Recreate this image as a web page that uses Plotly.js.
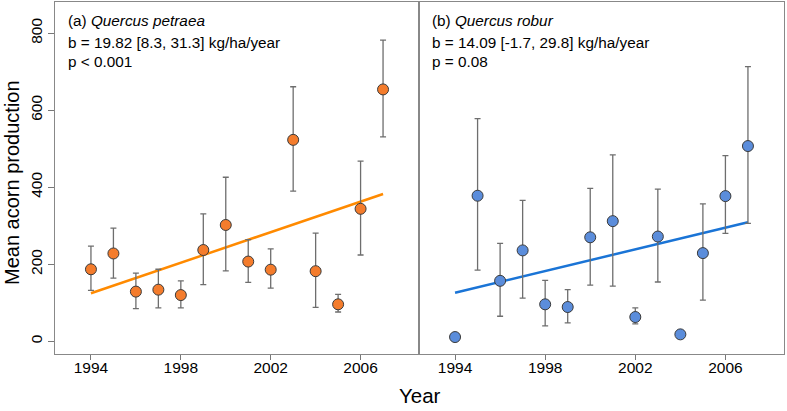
<!DOCTYPE html>
<html>
<head>
<meta charset="utf-8">
<script src="https://cdn.plot.ly/plotly-3.0.1.min.js"></script>
<style>html,body{margin:0;padding:0;background:#fff;}#chart{width:787px;height:411px;}</style>
</head>
<body>
<div id="chart"></div>
<script>
const years = [1994,1995,1996,1997,1998,1999,2000,2001,2002,2003,2004,2005,2006,2007];

// (a) Quercus petraea
const petraeaMean  = [187,228,129,134,120,237,302,207,186,523,182,96,344,654];
const petraeaUpper = [247,294,177,187,157,331,426,264,240,661,281,122,468,782];
const petraeaLower = [132,164,85,87,87,147,183,153,138,390,88,76,224,531];
const petraeaTrendX = [1994,2007];
const petraeaTrendY = [124.7,382.4];

// (b) Quercus robur
const roburMean  = [11,378,157,236,96,89,270,312,63,272,18,229,377,507];
const roburUpper = [11,578,254,366,158,134,397,484,87,395,18,357,482,713];
const roburLower = [11,185,65,112,40,48,146,143,45,154,18,107,280,306];
const roburTrendX = [1994,2007];
const roburTrendY = [126,309.2];

const yTicks = [0,200,400,600,800];
const xTicks = [1994,1998,2002,2006];

const textA = ["(a) <i>Quercus petraea</i>", "b = 19.82 [8.3, 31.3] kg/ha/year", "p < 0.001"];
const textB = ["(b) <i>Quercus robur</i>", "b = 14.09 [-1.7, 29.8] kg/ha/year", "p = 0.08"];

const plus = (u,m) => u.map((v,i)=>v-m[i]);
const minus = (l,m) => m.map((v,i)=>v-l[i]);

const errStyle = {type:'data', symmetric:false, color:'#6e6e6e', thickness:1.3, width:3};

const traces = [
  {x:petraeaTrendX, y:petraeaTrendY, mode:'lines', line:{color:'#ff8a00', width:2.5}, xaxis:'x', yaxis:'y', hoverinfo:'skip'},
  {x:years, y:petraeaMean, mode:'markers', xaxis:'x', yaxis:'y',
   error_y:Object.assign({array:plus(petraeaUpper,petraeaMean), arrayminus:minus(petraeaLower,petraeaMean)}, errStyle),
   marker:{size:11, color:'#f47c2c', line:{color:'#3a3a3a', width:1}}},
  {x:roburTrendX, y:roburTrendY, mode:'lines', line:{color:'#1a74d6', width:2.5}, xaxis:'x2', yaxis:'y2', hoverinfo:'skip'},
  {x:years, y:roburMean, mode:'markers', xaxis:'x2', yaxis:'y2',
   error_y:Object.assign({array:plus(roburUpper,roburMean), arrayminus:minus(roburLower,roburMean)}, errStyle),
   marker:{size:11, color:'#5b8ddb', line:{color:'#3a3a3a', width:1}}}
];

const font = {family:'"Liberation Sans", Arial, sans-serif', color:'#000'};
const xr = [1992.4, 2008.6];
const yr = [-33, 881];
const split = (419-55)/729;

function xaxisDef(domain, anchor){
  return {domain:domain, anchor:anchor, range:xr, tickmode:'array', tickvals:xTicks, ticktext:xTicks.map(String),
    ticks:'outside', ticklen:5, tickcolor:'#777', tickwidth:1, showgrid:false, zeroline:false,
    showline:true, linecolor:'#888', linewidth:1, mirror:true, tickfont:{size:15.5}, ticklabelstandoff:-6};
}

const annotations = [];
const lineY = [21,42,62];
[textA,textB].forEach((arr,k)=>{
  arr.forEach((t,i)=>{
    annotations.push({xref: k===0?'x domain':'x2 domain', x:0.03, xanchor:'left',
      yref:'paper', y:1-(lineY[i]-2)/352, yanchor:'middle', text:t, showarrow:false,
      font:{size:15.3, color:'#000'}});
  });
});
annotations.push({xref:'paper', x:0.5, xanchor:'center', yref:'paper', y:-(395-354)/352, yanchor:'middle',
  text:'Year', showarrow:false, font:{size:20.5, color:'#000'}});
annotations.push({xref:'paper', x:-(55-12)/729, xanchor:'center', yref:'paper', y:1-(183-2)/352, yanchor:'middle',
  text:'Mean acorn production', textangle:-90, showarrow:false, font:{size:20, color:'#000'}});

const layout = {
  width:787, height:411,
  margin:{l:55, r:3, t:2, b:57},
  paper_bgcolor:'#fff', plot_bgcolor:'#fff',
  font:font,
  showlegend:false,
  xaxis:xaxisDef([0,split],'y'),
  xaxis2:xaxisDef([split,1],'y2'),
  yaxis:{range:yr, tickmode:'array', tickvals:yTicks, ticktext:yTicks.map(String), tickangle:-90,
    ticks:'outside', ticklen:6, tickcolor:'#777', showgrid:false, zeroline:false,
    showline:true, linecolor:'#888', linewidth:1, mirror:true, tickfont:{size:15.5}},
  yaxis2:{range:yr, anchor:'x2', showticklabels:false, ticks:'', showgrid:false, zeroline:false,
    showline:true, linecolor:'#888', linewidth:1, mirror:true},
  annotations:annotations
};

Plotly.newPlot('chart', traces, layout, {displayModeBar:false, staticPlot:true});
</script>
</body>
</html>
